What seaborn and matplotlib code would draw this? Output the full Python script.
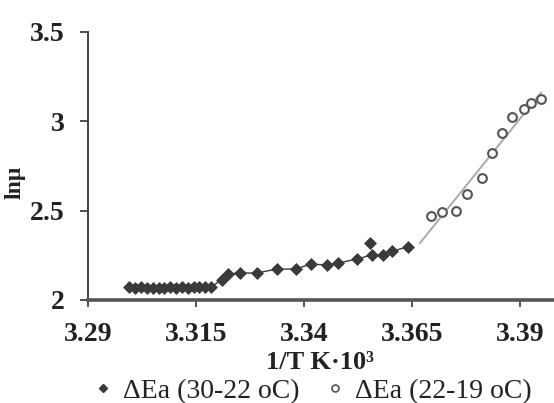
import numpy as np
import pandas as pd
import matplotlib
matplotlib.use("Agg")
import matplotlib.pyplot as plt
import seaborn as sns
from matplotlib.lines import Line2D

# 1/T (K^-1 x 10^3) and ln(viscosity), two temperature ranges
x_hi = [3.2995, 3.3009, 3.3022, 3.3036, 3.3049, 3.3063, 3.3076, 3.3090, 3.3103,
        3.3117, 3.3130, 3.3144, 3.3157, 3.3171, 3.3185, 3.3209, 3.3223, 3.3251,
        3.3290, 3.3336, 3.3380, 3.3415, 3.3452, 3.3479, 3.3521, 3.3551, 3.3556,
        3.3581, 3.3604, 3.3639]
y_hi = [2.070, 2.068, 2.070, 2.067, 2.068, 2.069, 2.067, 2.070, 2.068,
        2.070, 2.069, 2.070, 2.071, 2.072, 2.075, 2.112, 2.145, 2.151,
        2.151, 2.173, 2.173, 2.201, 2.196, 2.207, 2.229, 2.319, 2.252,
        2.252, 2.274, 2.297]
outlier_hi = [False] * 25 + [True] + [False] * 4

x_lo = [3.3692, 3.3719, 3.3752, 3.3777, 3.3810, 3.3835, 3.3858, 3.3881,
        3.3909, 3.3925, 3.3948]
y_lo = [2.470, 2.492, 2.497, 2.592, 2.682, 2.822, 2.933, 3.023,
        3.068, 3.102, 3.124]

label_hi = "ΔEa (30-22 oC)"
label_lo = "ΔEa (22-19 oC)"
x_ticks = [3.29, 3.315, 3.34, 3.365, 3.39]
x_tick_labels = ["3.29", "3.315", "3.34", "3.365", "3.39"]
y_ticks = [2, 2.5, 3, 3.5]
y_tick_labels = ["2", "2.5", "3", "3.5"]

sns.set_theme(style="white")
plt.rcParams["font.family"] = ["Liberation Serif", "DejaVu Serif"]

df_hi = pd.DataFrame({"x": x_hi, "y": y_hi, "out": outlier_hi})
df_lo = pd.DataFrame({"x": x_lo, "y": y_lo})

fig = plt.figure(figsize=(5.54, 4.03), dpi=100)
ax = fig.add_axes([0.159, 0.2556, 0.839, 0.665])

# trend through the 30-22 oC points (outlier left off the line)
main = df_hi[~df_hi["out"]]
sns.lineplot(data=main, x="x", y="y", ax=ax, color="#3a3a3a", lw=1.0,
             sort=True, estimator=None)
sns.scatterplot(data=df_hi, x="x", y="y", ax=ax, marker="D", s=36,
                color="#3a3a3a", edgecolor="#3a3a3a", linewidth=0.6, zorder=3)

# linear fit through the 22-19 oC points
k, b = np.polyfit(df_lo["x"], df_lo["y"], 1)
xf = np.linspace(df_lo["x"].min() - 0.0025, df_lo["x"].max(), 50)
ax.plot(xf, k * xf + b, color="#aaaaaa", lw=1.4, zorder=2)
sns.scatterplot(data=df_lo, x="x", y="y", ax=ax, marker="o", s=40,
                facecolor="white", edgecolor="#555555", linewidth=1.5, zorder=3)

ax.set_xlim(3.29, 3.3975)
ax.set_ylim(2, 3.5)
ax.set_xticks(x_ticks)
ax.set_xticklabels(x_tick_labels, fontweight="bold", fontsize=20)
ax.set_yticks(y_ticks)
ax.set_yticklabels(y_tick_labels, fontweight="bold", fontsize=20)
ax.tick_params(axis="x", direction="out", length=5, width=1.2, pad=11,
               colors="#333333", bottom=True)
ax.tick_params(axis="y", direction="out", length=6, width=1.2, pad=11,
               colors="#333333", left=True)
for lab in ax.get_xticklabels() + ax.get_yticklabels():
    lab.set_color("#222222")

for side in ["top", "right"]:
    ax.spines[side].set_visible(False)
ax.spines["left"].set_color("#444444")
ax.spines["left"].set_linewidth(1.4)
ax.spines["bottom"].set_color("#555555")
ax.spines["bottom"].set_linewidth(2.6)

ax.set_xlabel("1/T K·10³", fontweight="bold", fontsize=19, color="#222222")
ax.xaxis.set_label_coords(0.5, -0.19)
ax.set_ylabel("lnμ", fontweight="bold", fontsize=17, color="#222222")
ax.yaxis.set_label_coords(-0.135, 0.44)

handles = [
    Line2D([], [], marker="D", ls="none", color="#3a3a3a", markersize=4),
    Line2D([], [], marker="o", ls="none", markerfacecolor="white",
           markeredgecolor="#555555", markeredgewidth=1.2, markersize=5),
]
fig.legend(handles, [label_hi, label_lo], loc="center",
           bbox_to_anchor=(0.565, 0.03), ncol=2, frameon=False,
           prop={"size": 20}, handlelength=0.6, handletextpad=0.4,
           columnspacing=1.0, borderpad=0, labelcolor="#222222")

fig.savefig("out.png", dpi=100)
